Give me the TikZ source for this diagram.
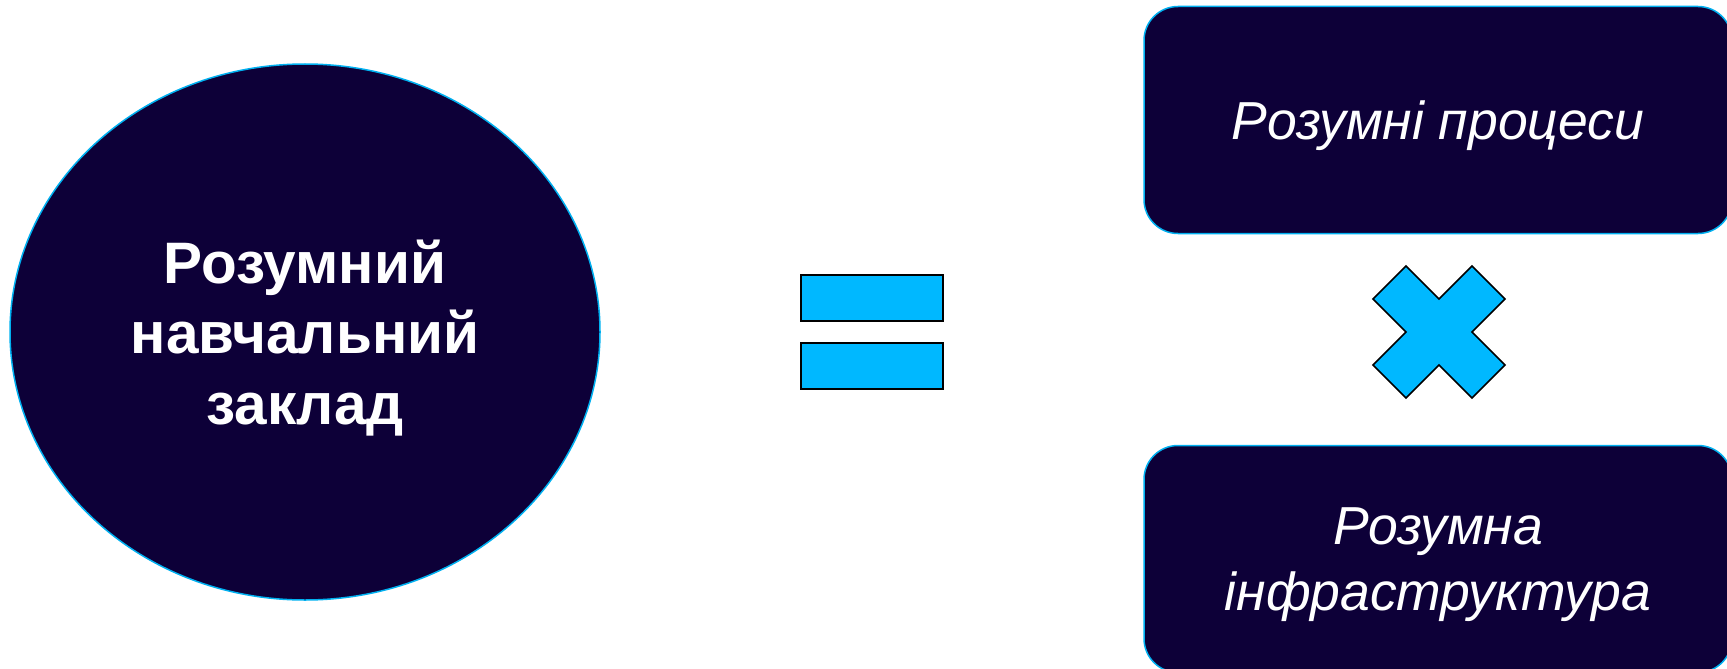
\documentclass[tikz,border=0pt]{standalone}
\usepackage{fontspec}
\setmainfont{Liberation Sans}
\usetikzlibrary{shapes.geometric,calc}
\definecolor{navy}{RGB}{13,0,56}
\definecolor{cyanedge}{RGB}{0,176,240}
\definecolor{cyanfill}{RGB}{0,184,255}
\tikzset{
  darkshape/.style={fill=navy, draw=cyanedge, line width=1.5pt, text=white, inner sep=0pt},
  roundbox/.style={darkshape, rectangle, rounded corners=34pt, minimum width=588pt, minimum height=227pt,
    font=\fontsize{53.5}{66}\selectfont\itshape, align=center},
  signshape/.style={fill=cyanfill, draw=black, line width=1.5pt},
}
\begin{document}
\begin{tikzpicture}[x=1pt,y=-1pt]
\useasboundingbox (0,0) rectangle (1727,669);
\node[darkshape, ellipse, minimum width=590pt, minimum height=536pt] (school) at (305,332) {};
\node[text=white, font=\fontsize{58.5}{70.5}\selectfont\bfseries, align=center, inner sep=0pt] (schooltext) at (305,338)
  {Розумний\\навчальний\\заклад};
\node[signshape, rectangle, minimum width=142pt, minimum height=46pt, inner sep=0pt] (eqtop) at (872,298) {};
\node[signshape, rectangle, minimum width=142pt, minimum height=46pt, inner sep=0pt] (eqbot) at (872,366) {};
\node[darkshape, rectangle, rounded corners=34pt, minimum width=588pt, minimum height=227pt] (proc) at (1438,120) {};
\node[text=white, font=\fontsize{53.5}{66}\selectfont\itshape, inner sep=0pt] (proctext) at (1438,126) {Розумні процеси};
\node[darkshape, rectangle, rounded corners=34pt, minimum width=588pt, minimum height=227pt] (infra) at (1438,559) {};
\node[text=white, font=\fontsize{53.5}{66}\selectfont\itshape, align=center, inner sep=0pt] (infratext) at (1438,565) {Розумна\\інфраструктура};
\coordinate (c) at (1439,332);
\draw[signshape] ($(c)+(0,-33)$) -- ($(c)+(33,-66)$) -- ($(c)+(66,-33)$) -- ($(c)+(33,0)$)
  -- ($(c)+(66,33)$) -- ($(c)+(33,66)$) -- ($(c)+(0,33)$) -- ($(c)+(-33,66)$)
  -- ($(c)+(-66,33)$) -- ($(c)+(-33,0)$) -- ($(c)+(-66,-33)$) -- ($(c)+(-33,-66)$) -- cycle;
\end{tikzpicture}
\end{document}
